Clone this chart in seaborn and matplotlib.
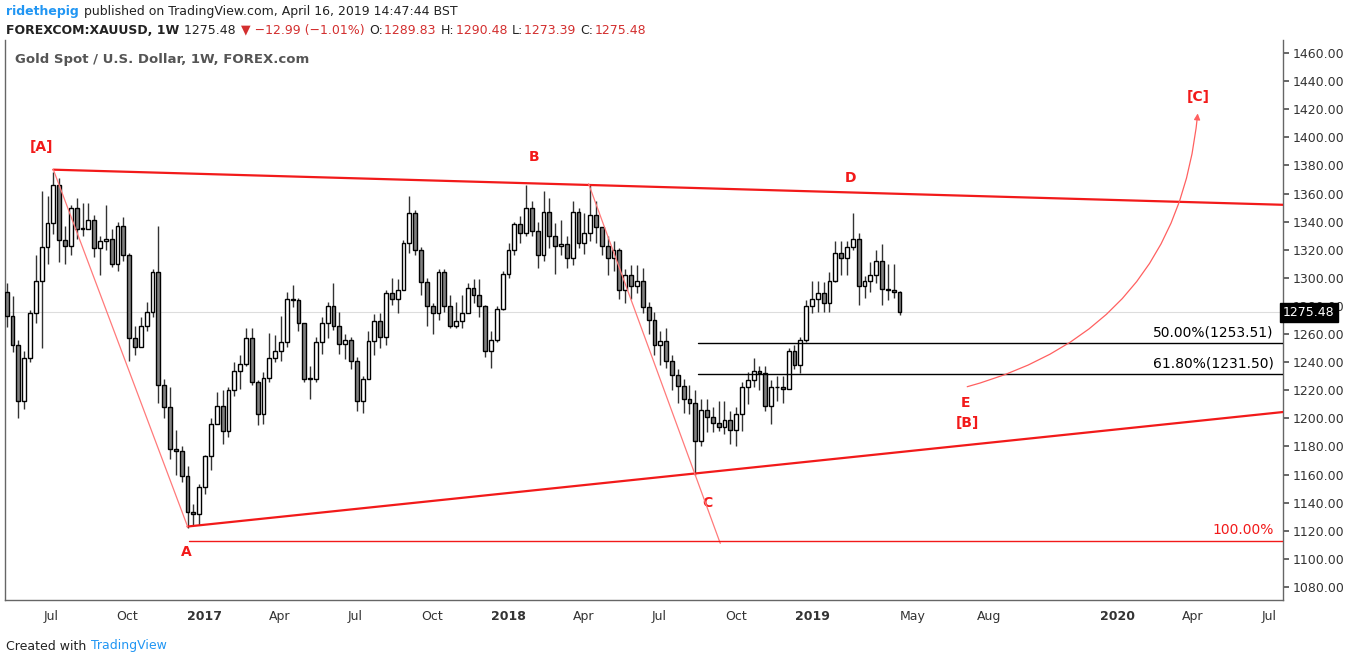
import numpy as np
import pandas as pd
import matplotlib
matplotlib.use("Agg")
import matplotlib.pyplot as plt
import matplotlib.dates as mdates
from matplotlib.patches import FancyArrowPatch
import seaborn as sns

sns.set_theme(style="white", font="DejaVu Sans")

first_week = "2016-05-09"
first_open = 1290.0
closes = [1273, 1252, 1212, 1243, 1275, 1298, 1322, 1339, 1366, 1327, 1323, 1350, 1335, 1335, 1341, 1321, 1326,
          1328, 1310, 1337, 1316, 1257, 1251, 1266, 1276, 1304, 1224, 1208, 1178, 1177, 1159, 1133, 1132, 1151,
          1173, 1196, 1209, 1191, 1220, 1234, 1239, 1257, 1226, 1203, 1229, 1243, 1248, 1254, 1285, 1284, 1268,
          1228, 1228, 1254, 1268, 1280, 1266, 1253, 1256, 1241, 1212, 1228, 1255, 1269, 1258, 1289, 1285, 1291,
          1325, 1346, 1320, 1297, 1280, 1275, 1304, 1280, 1266, 1269, 1275, 1293, 1288, 1280, 1248, 1256, 1278,
          1303, 1320, 1338, 1332, 1350, 1333, 1316, 1347, 1330, 1323, 1324, 1314, 1347, 1325, 1332, 1345, 1336,
          1323, 1314, 1320, 1291, 1302, 1294, 1298, 1279, 1270, 1252, 1255, 1241, 1231, 1223, 1214, 1211, 1184,
          1206, 1201, 1197, 1194, 1199, 1192, 1203, 1222, 1227, 1234, 1232, 1209, 1222, 1222, 1221, 1248, 1238,
          1256, 1280, 1285, 1289, 1282, 1298, 1318, 1314, 1322, 1328, 1294, 1298, 1302, 1312, 1292, 1291, 1290,
          1275.48]
highs = [1296, 1287, 1256, 1248, 1277, 1316, 1362, 1358, 1375, 1371, 1337, 1352, 1357, 1353, 1353, 1345, 1330,
         1352, 1335, 1340, 1343, 1318, 1266, 1272, 1283, 1306, 1337, 1228, 1222, 1192, 1180, 1166, 1139, 1153,
         1174, 1200, 1219, 1220, 1222, 1240, 1245, 1264, 1264, 1227, 1233, 1261, 1259, 1273, 1290, 1295, 1286,
         1268, 1237, 1258, 1272, 1283, 1296, 1276, 1260, 1258, 1244, 1230, 1262, 1274, 1275, 1291, 1300, 1299,
         1327, 1358, 1348, 1322, 1300, 1282, 1306, 1306, 1288, 1283, 1288, 1296, 1299, 1299, 1281, 1262, 1280,
         1305, 1325, 1340, 1344, 1366, 1355, 1340, 1362, 1357, 1339, 1341, 1330, 1355, 1350, 1346, 1366, 1355,
         1336, 1330, 1326, 1321, 1306, 1309, 1309, 1307, 1283, 1276, 1262, 1264, 1245, 1235, 1228, 1224, 1220,
         1214, 1214, 1208, 1212, 1212, 1205, 1208, 1226, 1233, 1243, 1237, 1237, 1227, 1230, 1230, 1250, 1252,
         1258, 1284, 1298, 1298, 1297, 1304, 1326, 1326, 1326, 1346, 1332, 1301, 1311, 1320, 1324, 1310, 1310,
         1290.48]
lows = [1265, 1247, 1200, 1207, 1240, 1268, 1250, 1310, 1331, 1311, 1310, 1316, 1328, 1330, 1335, 1315, 1302,
        1320, 1308, 1305, 1312, 1241, 1245, 1251, 1262, 1272, 1211, 1200, 1171, 1160, 1155, 1122, 1124, 1124,
        1146, 1163, 1196, 1182, 1187, 1216, 1221, 1237, 1224, 1195, 1196, 1226, 1240, 1241, 1251, 1279, 1262,
        1226, 1214, 1226, 1246, 1257, 1263, 1246, 1242, 1235, 1205, 1204, 1228, 1245, 1250, 1252, 1281, 1275,
        1291, 1318, 1316, 1288, 1266, 1260, 1270, 1276, 1264, 1264, 1264, 1275, 1282, 1272, 1244, 1236, 1254,
        1277, 1300, 1316, 1325, 1330, 1330, 1307, 1312, 1321, 1303, 1316, 1307, 1309, 1321, 1317, 1326, 1325,
        1316, 1302, 1305, 1285, 1282, 1285, 1289, 1275, 1260, 1245, 1238, 1236, 1220, 1211, 1204, 1203, 1160,
        1180, 1190, 1190, 1191, 1189, 1182, 1180, 1191, 1210, 1222, 1220, 1205, 1196, 1212, 1211, 1221, 1235,
        1232, 1254, 1275, 1276, 1276, 1276, 1297, 1302, 1302, 1320, 1281, 1286, 1290, 1296, 1281, 1284, 1286,
        1273.39]

last_price = 1275.48
fib_levels = [1253.51, 1231.50]
fib_labels = ["50.00%(1253.51)", "61.80%(1231.50)"]
fib_100 = 1112.7
price_ticks = list(range(1080, 1461, 20))
tick_dates = ["2016-07-01", "2016-10-01", "2017-01-01", "2017-04-01", "2017-07-01", "2017-10-01",
              "2018-01-01", "2018-04-01", "2018-07-01", "2018-10-01", "2019-01-01", "2019-05-01",
              "2019-08-01", "2020-01-01", "2020-04-01", "2020-07-01"]

df = pd.DataFrame({"close": closes, "high": highs, "low": lows})
df["date"] = pd.date_range(first_week, periods=len(df), freq="W-MON")
df["open"] = [first_open] + closes[:-1]
df["up"] = df["close"] >= df["open"]
x = mdates.date2num(df["date"])

fig = plt.figure(figsize=(13.48, 6.64), dpi=100)
ax = fig.add_axes([5 / 1348, 64 / 664, 1278 / 1348, 560 / 664])

# wicks and bodies
ax.vlines(x, df["low"], df["high"], color="#333333", lw=1, zorder=2)
body_lo = np.minimum(df["open"], df["close"])
body_h = np.maximum(np.abs(df["close"] - df["open"]), 0.6)
ax.bar(x, body_h, bottom=body_lo, width=4.6,
       color=np.where(df["up"], "white", "#808080"), edgecolor="black", lw=1, zorder=3)

d = lambda s: mdates.date2num(pd.Timestamp(s))
red = "#f21a1a"
xr = d("2020-07-18")
# channel lines
ax.plot([d("2016-07-04"), xr], [1377, 1352], color=red, lw=1.6, zorder=4)
ax.plot([d("2016-12-12"), xr], [1123, 1204.5], color=red, lw=1.6, zorder=4)
ax.plot([d("2016-07-04"), d("2016-12-12")], [1377, 1123], color="#ff7a7a", lw=0.9, zorder=4)
ax.plot([d("2018-04-07"), d("2018-09-12")], [1367, 1111], color="#ff7a7a", lw=0.9, zorder=4)
# fib levels
for lvl, lab in zip(fib_levels, fib_labels):
    ax.plot([d("2018-08-16"), xr], [lvl, lvl], color="black", lw=1, zorder=4)
    ax.text(d("2020-07-07"), lvl + 2.5, lab, ha="right", va="bottom", fontsize=10, color="black")
ax.plot([d("2016-12-14"), xr], [fib_100, fib_100], color=red, lw=1, zorder=4)
ax.text(d("2020-07-07"), fib_100 + 2.5, "100.00%", ha="right", va="bottom", fontsize=10, color=red)
# last price line
ax.axhline(last_price, color="#dddddd", lw=0.8, zorder=1)
# arc arrow
arr = FancyArrowPatch((d("2019-07-02"), 1222), (d("2020-04-07"), 1419), connectionstyle="arc3,rad=0.35",
                      arrowstyle="-|>", mutation_scale=9, color="#ff6060", lw=0.9, zorder=4)
ax.add_patch(arr)

labels = [("[A]", "2016-06-20", 1393), ("B", "2018-02-01", 1386), ("D", "2019-02-15", 1371),
          ("[C]", "2020-04-07", 1429), ("E", "2019-07-03", 1211), ("[B]", "2019-07-06", 1197),
          ("C", "2018-08-28", 1140), ("A", "2016-12-10", 1105)]
for t, dt, p in labels:
    ax.text(d(dt), p, t, color=red, fontsize=10, fontweight="bold", ha="center", va="center")

ax.set_xlim(d("2016-05-07"), xr)
ax.set_ylim(1070.7, 1469.3)
ax.yaxis.tick_right()
ax.set_yticks(price_ticks)
ax.set_yticklabels([f"{v:.2f}" for v in price_ticks], fontsize=9, color="#333333")
ax.tick_params(axis="y", direction="out", length=4, color="#555555", pad=3)

months = pd.to_datetime(tick_dates)
ax.set_xticks(mdates.date2num(months))
xl = [str(m.year) if m.month == 1 else m.strftime("%b") for m in months]
ax.set_xticklabels(xl, fontsize=9, color="#333333")
for lab, m in zip(ax.get_xticklabels(), months):
    if m.month == 1:
        lab.set_fontweight("bold")
ax.tick_params(axis="x", direction="out", length=4, color="#555555", pad=3)
for s in ["left", "right", "bottom"]:
    ax.spines[s].set_color("#666666")
    ax.spines[s].set_linewidth(1)
ax.spines["top"].set_visible(False)

# last price tag
ax.text(1.0, last_price, f"{last_price:.2f}", transform=ax.get_yaxis_transform(), ha="left", va="center",
        fontsize=9, color="white", bbox=dict(boxstyle="square,pad=0.25", fc="black", ec="black"),
        zorder=6, clip_on=False)
ax.text(0.008, 0.965, "Gold Spot / U.S. Dollar, 1W, FOREX.com", transform=ax.transAxes, fontsize=9.5,
        color="#555555", fontweight="bold", va="center")


# header / footer: pieces laid out one after another
def text_row(y_px, pieces, x_px=6):
    fig.canvas.draw()
    r = fig.canvas.get_renderer()
    xx = x_px
    for s, col, bold in pieces:
        t = fig.text(xx / 1348, 1 - y_px / 664, s, fontsize=9, color=col, va="center",
                     fontweight="bold" if bold else "normal")
        xx += t.get_window_extent(renderer=r).width + 1


dark = "#222222"
neg = "#d32f2f"
text_row(12, [("ridethepig", "#2196f3", True),
              (" published on TradingView.com, April 16, 2019 14:47:44 BST", dark, False)])
text_row(30, [("FOREXCOM:XAUUSD, 1W", dark, True), (" 1275.48 ", dark, False),
              ("\u25bc \u221212.99 (\u22121.01%) ", neg, False), ("O:", dark, False), ("1289.83 ", neg, False),
              ("H:", dark, False), ("1290.48 ", neg, False), ("L:", dark, False), ("1273.39 ", neg, False),
              ("C:", dark, False), ("1275.48", neg, False)])
text_row(646, [("Created with ", dark, False), ("TradingView", "#2196f3", False)])

fig.savefig("out.png", dpi=100, facecolor="white")
